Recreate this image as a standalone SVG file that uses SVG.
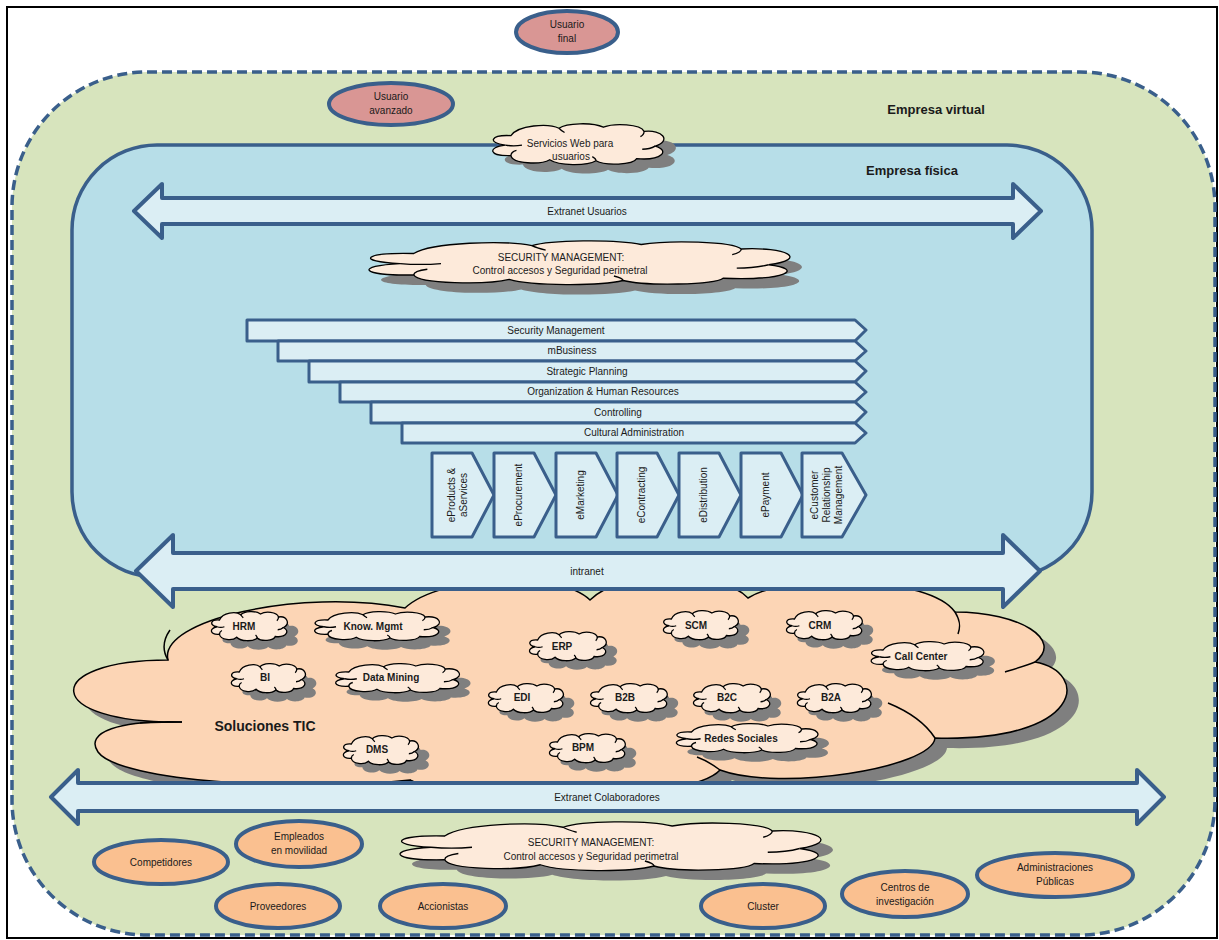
<svg xmlns="http://www.w3.org/2000/svg" xmlns:xlink="http://www.w3.org/1999/xlink" width="1219" height="940" viewBox="0 0 1219 940">
  <style>
    .frame{fill:none;stroke:#000;stroke-width:2}
    .virt{fill:#d7e4bd;stroke:#3a5f8b;stroke-width:3.5;stroke-dasharray:10 5}
    .fis{fill:#b7dee8;stroke:#3a5f8b;stroke-width:3.5}
    .arw{fill:#dbeef4;stroke:#3a5f8b;stroke-width:4;stroke-linejoin:round}
    .bar{fill:#dbeef4;stroke:#3a5f8b;stroke-width:3;stroke-linejoin:round}
    .usr{fill:#d99694;stroke:#3a5f8b;stroke-width:4}
    .ext{fill:#fac090;stroke:#3a5f8b;stroke-width:4}
    .shd{fill:#7f7f7f;stroke:none}
    .cl{fill:#fdeada;stroke:#000;stroke-width:1.3}
    .tick{fill:none;stroke:#000;stroke-width:1.3}
    .big{fill:#fcd5b5;stroke:#000;stroke-width:1.5}
    .bigt{fill:none;stroke:#000;stroke-width:1.5}
    text{font-family:"Liberation Sans",Arial,sans-serif;font-size:10px;fill:#1a1a1a}
    .b{font-weight:bold}
    .c{text-anchor:middle}
    .h{font-size:13px;font-weight:bold}
  </style>
  <defs>
    <!-- cloud outline in a 100 x 40 box -->
    <path id="cloud" vector-effect="non-scaling-stroke" d="M14,12 C3,11 1,19 11,21 C1,23 2,32 14,31 C15,39 30,40 35,35 C40,41 55,41 60,36 C65,41 80,40 82,34 C96,36 100,26 92,22 C101,17 96,6 86,8 C84,1 70,0 64,4 C58,-1 44,0 40,5 C34,0 18,2 14,12 Z"/>
    <path id="cloudTicks" vector-effect="non-scaling-stroke" d="M11,21 C14,22 17,22 20,21 M14,31 C14,29 15,27 17,26 M60,36 C60,34 59,33 58,32 M92,22 C90,24 88,25 85,25 M86,8 C86,10 85,12 84,13 M40,5 C41,7 42,8 43,9"/>
    <path id="bigCloud" d="M168,660 C158,620 300,588 405,608 C440,575 560,570 590,600 C620,570 720,568 748,598 C790,572 930,576 955,612 C1020,612 1064,640 1035,662 C1090,672 1084,742 935,738 C932,768 780,792 720,770 C690,804 450,808 410,780 C300,792 120,782 98,752 C84,732 120,720 182,722 C40,724 40,660 168,660 Z"/>
  </defs>

  <!-- outer frame -->
  <rect class="frame" x="7" y="7" width="1210" height="931"/>

  <g id="empresa-virtual">
    <rect class="virt" x="12" y="72" width="1203" height="863" rx="135" ry="135"/>
    <text class="h c" x="936" y="114">Empresa virtual</text>
  </g>

  <g id="empresa-fisica">
    <rect class="fis" x="72" y="145" width="1020" height="432" rx="85" ry="85"/>
    <text class="h c" x="912" y="175">Empresa física</text>
  </g>

  <g id="usuario-final">
    <ellipse class="usr" cx="567" cy="32" rx="51" ry="21"/>
    <text class="c" x="567" y="28">Usuario</text>
    <text class="c" x="567" y="42">final</text>
  </g>

  <g id="usuario-avanzado">
    <ellipse class="usr" cx="391" cy="104" rx="62" ry="21"/>
    <text class="c" x="391" y="100">Usuario</text>
    <text class="c" x="391" y="114">avanzado</text>
  </g>

  <g id="servicios-web">
    <use href="#cloud" class="shd" transform="translate(497,132) scale(1.85,1.05)"/>
    <use href="#cloud" class="cl" transform="translate(485,123) scale(1.85,1.05)"/>
    <use href="#cloudTicks" class="tick" transform="translate(485,123) scale(1.85,1.05)"/>
    <text class="c" x="570" y="147">Servicios Web para</text>
    <text class="c" x="571" y="160">usuarios</text>
  </g>

  <g id="connectors">
    <g id="extranet-usuarios">
      <path class="arw" d="M134,211 L162,184 L162,198 L1013,198 L1013,184 L1041,211 L1013,238 L1013,224 L162,224 L162,238 Z"/>
      <text class="c" x="587" y="215">Extranet Usuarios</text>
    </g>
  </g>

  <g id="security-management-1">
    <use href="#cloud" class="shd" transform="translate(362,250) scale(4.55,1.125)"/>
    <use href="#cloud" class="cl" transform="translate(350,240) scale(4.55,1.125)"/>
    <use href="#cloudTicks" class="tick" transform="translate(350,240) scale(4.55,1.125)"/>
    <text class="c" x="561" y="261">SECURITY MANAGEMENT:</text>
    <text class="c" x="560" y="274">Control accesos y Seguridad perimetral</text>
  </g>

  <g id="capas">
    <path class="bar" d="M247,320 L855,320 L866,330 L855,341 L247,341 Z"/>
    <text class="c" x="556" y="334">Security Management</text>
    <path class="bar" d="M278,341 L855,341 L866,351 L855,361 L278,361 Z"/>
    <text class="c" x="572" y="354">mBusiness</text>
    <path class="bar" d="M309,361 L855,361 L866,371 L855,382 L309,382 Z"/>
    <text class="c" x="587" y="375">Strategic Planning</text>
    <path class="bar" d="M340,382 L855,382 L866,392 L855,402 L340,402 Z"/>
    <text class="c" x="603" y="395">Organization &amp; Human Resources</text>
    <path class="bar" d="M371,402 L855,402 L866,412 L855,423 L371,423 Z"/>
    <text class="c" x="618" y="416">Controlling</text>
    <path class="bar" d="M402,423 L855,423 L866,433 L855,443 L402,443 Z"/>
    <text class="c" x="634" y="436">Cultural Administration</text>
  </g>

  <g id="procesos">
    <path class="bar" d="M432,453 L472,453 L494,495 L472,537 L432,537 Z"/>
    <text transform="translate(457,495) rotate(-90)" class="c"><tspan x="0" y="-2.5">eProducts &amp;</tspan><tspan x="0" y="9.5">aServices</tspan></text>
    <path class="bar" d="M494,453 L534,453 L556,495 L534,537 L494,537 Z"/>
    <text transform="translate(518,495) rotate(-90)" class="c"><tspan x="0" y="3.5">eProcurement</tspan></text>
    <path class="bar" d="M556,453 L596,453 L618,495 L596,537 L556,537 Z"/>
    <text transform="translate(580,495) rotate(-90)" class="c"><tspan x="0" y="3.5">eMarketing</tspan></text>
    <path class="bar" d="M617,453 L657,453 L679,495 L657,537 L617,537 Z"/>
    <text transform="translate(641,495) rotate(-90)" class="c"><tspan x="0" y="3.5">eContracting</tspan></text>
    <path class="bar" d="M679,453 L719,453 L741,495 L719,537 L679,537 Z"/>
    <text transform="translate(703,495) rotate(-90)" class="c"><tspan x="0" y="3.5">eDistribution</tspan></text>
    <path class="bar" d="M741,453 L781,453 L803,495 L781,537 L741,537 Z"/>
    <text transform="translate(765,495) rotate(-90)" class="c"><tspan x="0" y="3.5">ePayment</tspan></text>
    <path class="bar" d="M802,453 L842,453 L866,495 L842,537 L802,537 Z"/>
    <text transform="translate(826,495) rotate(-90)" class="c"><tspan x="0" y="-8.5">eCustomer</tspan><tspan x="0" y="3.5">Relationship</tspan><tspan x="0" y="15.5">Management</tspan></text>
  </g>

  <g id="soluciones-tic">
    <use href="#bigCloud" class="shd" transform="translate(12,10)"/>
    <use href="#bigCloud" class="big"/>
    <path class="bigt" d="M168,660 C162,650 163,640 170,630 M955,612 C960,620 961,626 958,634 M1005,672 C1018,668 1028,665 1035,662 M888,703 C910,712 926,724 935,738 M720,770 C712,764 705,760 697,757 M410,780 C420,784 430,789 440,795 M182,722 C165,722 152,722 140,723"/>
    <text class="c b" style="font-size:14px" x="265" y="731">Soluciones TIC</text>
  </g>

  <g id="connectors-2">
    <g id="intranet">
      <path class="arw" d="M136,571 L173,535 L173,553 L1003,553 L1003,535 L1040,571 L1003,607 L1003,589 L173,589 L173,607 Z"/>
      <text class="c" x="587" y="575">intranet</text>
    </g>
  </g>

  <g id="hrm">
    <use href="#cloud" class="shd" transform="translate(219,620) scale(0.82,0.75)"/>
    <use href="#cloud" class="cl" transform="translate(208,611) scale(0.82,0.75)"/>
    <use href="#cloudTicks" class="tick" transform="translate(208,611) scale(0.82,0.75)"/>
    <text class="c b" x="244" y="630">HRM</text>
  </g>
  <g id="know-mgmt">
    <use href="#cloud" class="shd" transform="translate(320,620) scale(1.35,0.75)"/>
    <use href="#cloud" class="cl" transform="translate(309,611) scale(1.35,0.75)"/>
    <use href="#cloudTicks" class="tick" transform="translate(309,611) scale(1.35,0.75)"/>
    <text class="c b" x="373" y="630">Know. Mgmt</text>
  </g>
  <g id="erp">
    <use href="#cloud" class="shd" transform="translate(537,640) scale(0.83,0.75)"/>
    <use href="#cloud" class="cl" transform="translate(526,631) scale(0.83,0.75)"/>
    <use href="#cloudTicks" class="tick" transform="translate(526,631) scale(0.83,0.75)"/>
    <text class="c b" x="562" y="650">ERP</text>
  </g>
  <g id="scm">
    <use href="#cloud" class="shd" transform="translate(671,619) scale(0.81,0.75)"/>
    <use href="#cloud" class="cl" transform="translate(660,610) scale(0.81,0.75)"/>
    <use href="#cloudTicks" class="tick" transform="translate(660,610) scale(0.81,0.75)"/>
    <text class="c b" x="696" y="629">SCM</text>
  </g>
  <g id="crm">
    <use href="#cloud" class="shd" transform="translate(794,619) scale(0.82,0.75)"/>
    <use href="#cloud" class="cl" transform="translate(783,610) scale(0.82,0.75)"/>
    <use href="#cloudTicks" class="tick" transform="translate(783,610) scale(0.82,0.75)"/>
    <text class="c b" x="820" y="629">CRM</text>
  </g>
  <g id="call-center">
    <use href="#cloud" class="shd" transform="translate(877,650) scale(1.22,0.75)"/>
    <use href="#cloud" class="cl" transform="translate(866,641) scale(1.22,0.75)"/>
    <use href="#cloudTicks" class="tick" transform="translate(866,641) scale(1.22,0.75)"/>
    <text class="c b" x="921" y="660">Call Center</text>
  </g>
  <g id="bi">
    <use href="#cloud" class="shd" transform="translate(239,672) scale(0.80,0.75)"/>
    <use href="#cloud" class="cl" transform="translate(228,663) scale(0.80,0.75)"/>
    <use href="#cloudTicks" class="tick" transform="translate(228,663) scale(0.80,0.75)"/>
    <text class="c b" x="265" y="681">BI</text>
  </g>
  <g id="data-mining">
    <use href="#cloud" class="shd" transform="translate(341,672) scale(1.34,0.75)"/>
    <use href="#cloud" class="cl" transform="translate(330,663) scale(1.34,0.75)"/>
    <use href="#cloudTicks" class="tick" transform="translate(330,663) scale(1.34,0.75)"/>
    <text class="c b" x="391" y="681">Data Mining</text>
  </g>
  <g id="edi">
    <use href="#cloud" class="shd" transform="translate(496,692) scale(0.81,0.75)"/>
    <use href="#cloud" class="cl" transform="translate(485,683) scale(0.81,0.75)"/>
    <use href="#cloudTicks" class="tick" transform="translate(485,683) scale(0.81,0.75)"/>
    <text class="c b" x="522" y="701">EDI</text>
  </g>
  <g id="b2b">
    <use href="#cloud" class="shd" transform="translate(598,692) scale(0.83,0.75)"/>
    <use href="#cloud" class="cl" transform="translate(587,683) scale(0.83,0.75)"/>
    <use href="#cloudTicks" class="tick" transform="translate(587,683) scale(0.83,0.75)"/>
    <text class="c b" x="625" y="701">B2B</text>
  </g>
  <g id="b2c">
    <use href="#cloud" class="shd" transform="translate(701,692) scale(0.83,0.75)"/>
    <use href="#cloud" class="cl" transform="translate(690,683) scale(0.83,0.75)"/>
    <use href="#cloudTicks" class="tick" transform="translate(690,683) scale(0.83,0.75)"/>
    <text class="c b" x="727" y="701">B2C</text>
  </g>
  <g id="b2a">
    <use href="#cloud" class="shd" transform="translate(805,692) scale(0.80,0.75)"/>
    <use href="#cloud" class="cl" transform="translate(794,683) scale(0.80,0.75)"/>
    <use href="#cloudTicks" class="tick" transform="translate(794,683) scale(0.80,0.75)"/>
    <text class="c b" x="831" y="701">B2A</text>
  </g>
  <g id="redes-sociales">
    <use href="#cloud" class="shd" transform="translate(681,732) scale(1.53,0.75)"/>
    <use href="#cloud" class="cl" transform="translate(670,723) scale(1.53,0.75)"/>
    <use href="#cloudTicks" class="tick" transform="translate(670,723) scale(1.53,0.75)"/>
    <text class="c b" x="741" y="742">Redes Sociales</text>
  </g>
  <g id="bpm">
    <use href="#cloud" class="shd" transform="translate(557,742) scale(0.82,0.75)"/>
    <use href="#cloud" class="cl" transform="translate(546,733) scale(0.82,0.75)"/>
    <use href="#cloudTicks" class="tick" transform="translate(546,733) scale(0.82,0.75)"/>
    <text class="c b" x="583" y="751">BPM</text>
  </g>
  <g id="dms">
    <use href="#cloud" class="shd" transform="translate(351,744) scale(0.81,0.75)"/>
    <use href="#cloud" class="cl" transform="translate(340,735) scale(0.81,0.75)"/>
    <use href="#cloudTicks" class="tick" transform="translate(340,735) scale(0.81,0.75)"/>
    <text class="c b" x="377" y="753">DMS</text>
  </g>

  <g id="connectors-3">
    <g id="extranet-colaboradores">
      <path class="arw" d="M51,797 L78,770 L78,783 L1137,783 L1137,770 L1164,797 L1137,824 L1137,811 L78,811 L78,824 Z"/>
      <text class="c" x="607" y="801">Extranet Colaboradores</text>
    </g>
  </g>

  <g id="security-management-2">
    <use href="#cloud" class="shd" transform="translate(393,831) scale(4.55,1.25)"/>
    <use href="#cloud" class="cl" transform="translate(381,821) scale(4.55,1.25)"/>
    <use href="#cloudTicks" class="tick" transform="translate(381,821) scale(4.55,1.25)"/>
    <text class="c" x="591" y="846">SECURITY MANAGEMENT:</text>
    <text class="c" x="591" y="860">Control accesos y Seguridad perimetral</text>
  </g>

  <g id="competidores">
    <ellipse class="ext" cx="161" cy="862" rx="67" ry="22"/>
    <text class="c" x="161" y="866">Competidores</text>
  </g>
  <g id="empleados">
    <ellipse class="ext" cx="299" cy="844" rx="63" ry="23"/>
    <text class="c" x="299" y="840">Empleados</text>
    <text class="c" x="299" y="854">en movilidad</text>
  </g>
  <g id="proveedores">
    <ellipse class="ext" cx="278" cy="906" rx="62" ry="22"/>
    <text class="c" x="278" y="910">Proveedores</text>
  </g>
  <g id="accionistas">
    <ellipse class="ext" cx="443" cy="906" rx="63" ry="22"/>
    <text class="c" x="443" y="910">Accionistas</text>
  </g>
  <g id="cluster">
    <ellipse class="ext" cx="763" cy="906" rx="62" ry="22"/>
    <text class="c" x="763" y="910">Cluster</text>
  </g>
  <g id="centros-investigacion">
    <ellipse class="ext" cx="905" cy="894" rx="63" ry="23"/>
    <text class="c" x="905" y="891">Centros de</text>
    <text class="c" x="905" y="905">investigación</text>
  </g>
  <g id="administraciones-publicas">
    <ellipse class="ext" cx="1055" cy="875" rx="78" ry="22"/>
    <text class="c" x="1055" y="871">Administraciones</text>
    <text class="c" x="1055" y="885">Públicas</text>
  </g>
</svg>
